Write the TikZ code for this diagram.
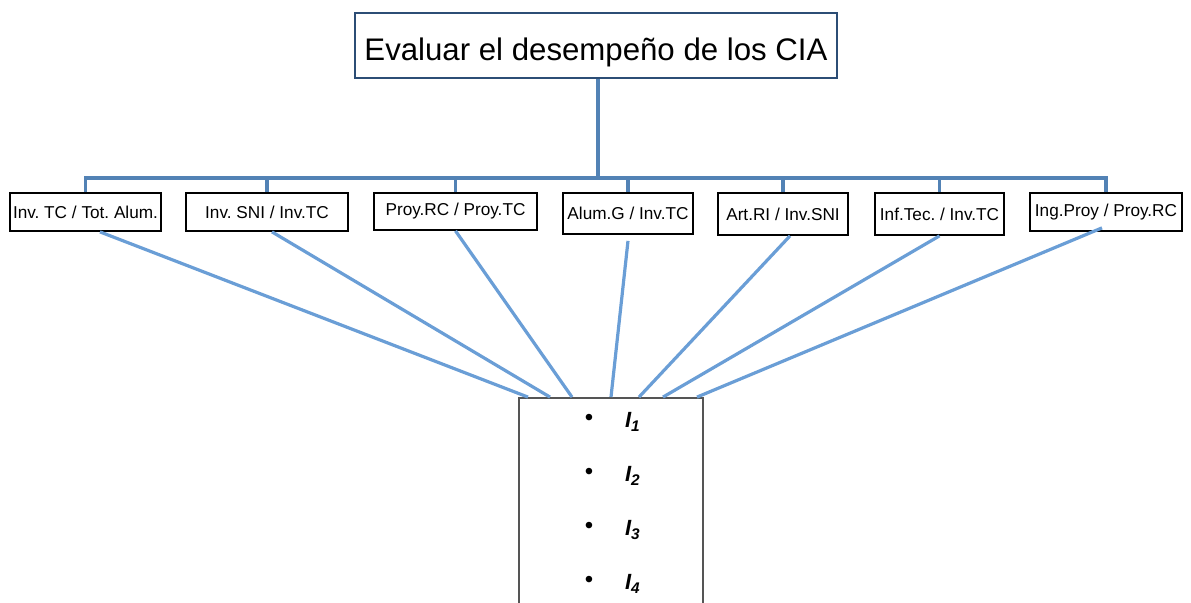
\documentclass[tikz,border=0pt]{standalone}
\usepackage{fontspec}
\setmainfont{Liberation Sans}
\frenchspacing

\definecolor{titleblue}{HTML}{2C4D75}
\definecolor{busblue}{HTML}{5282B5}
\definecolor{linkblue}{HTML}{6A9ED6}
\definecolor{boxgray}{HTML}{555555}

\begin{document}
\begin{tikzpicture}[x=0.5pt, y=-0.5pt,
	titlebox/.style={draw=titleblue, line width=1.3pt, fill=white, inner sep=0pt,
		minimum width=241pt, minimum height=32.5pt, text height=17pt, text depth=2.3pt,
		font=\fontsize{15.6}{18}\selectfont},
	ratio/.style={draw=black, line width=0.9pt, fill=white, inner sep=0pt,
		font=\fontsize{8.6}{10}\selectfont},
	indbox/.style={draw=boxgray, line width=0.9pt, fill=white, inner sep=0pt,
		minimum width=92pt, minimum height=120pt},
	bus/.style={draw=busblue, line width=1.8pt},
	link/.style={draw=linkblue, line width=1.6pt}]

	\useasboundingbox (0,0) rectangle (1191,603);
	\clip (0,0) rectangle (1191,603);

	% ratios
	\node[titlebox] (eval)  at (596,45.5)  {Evaluar el desempeño de los CIA};
	\node[ratio, minimum width=75.5pt, minimum height=19pt]   (r1) at (85.5,212)  {Inv. TC / Tot. Alum.};
	\node[ratio, minimum width=81pt,   minimum height=19pt]   (r2) at (267,212)   {Inv. SNI / Inv.TC};
	\node[ratio, minimum width=81.5pt, minimum height=18.5pt] (r3) at (455.5,211.5) {Proy.RC / Proy.TC};
	\node[ratio, minimum width=65pt,   minimum height=20.5pt] (r4) at (628,213.5) {Alum.G / Inv.TC};
	\node[ratio, minimum width=65pt,   minimum height=21pt]   (r5) at (783,214)   {Art.RI / Inv.SNI};
	\node[ratio, minimum width=64.5pt, minimum height=21pt]   (r6) at (939.5,214) {Inf.Tec. / Inv.TC};
	\node[ratio, minimum width=76pt,   minimum height=19pt]   (r7) at (1106,212)  {Ing.Proy / Proy.RC};

	\node[indbox] (ind) at (611,518) {};
	\coordinate (split) at (598,178);

	% tree
	\path[bus] (eval.south -| split) edge (split);
	\foreach \r in {1,...,7}
		\path[bus] (r\r.north) edge[to path={|- (\tikztotarget)}] (split);

	% links to the indicators
	\path[link] ([xshift=7.25pt]r1.south) edge ([xshift=-41.5pt]ind.north);
	\path[link] ([xshift=2.5pt]r2.south)  edge ([xshift=-30.5pt]ind.north);
	\path[link] (r3.south)                edge ([xshift=-19.5pt]ind.north);
	\path[link] ([yshift=-3pt]r4.south)   edge (ind.north);
	\path[link] ([xshift=3.5pt]r5.south)  edge ([xshift=14pt]ind.north);
	\path[link] (r6.south)                edge ([xshift=26pt]ind.north);
	\path[link] ([xshift=-2pt,yshift=2pt]r7.south) edge ([xshift=43pt]ind.north);

	% indicators
	\foreach \n in {1,...,4} {
		\node[font=\fontsize{12}{13}\selectfont] (dot\n) at (589,366+54*\n) {\textbullet};
		\node[font=\fontsize{11}{13}\selectfont\bfseries\itshape, anchor=west] (i\n)
			at (618,368+54*\n) {I\textsubscript{\n}};
	}
\end{tikzpicture}
\end{document}
